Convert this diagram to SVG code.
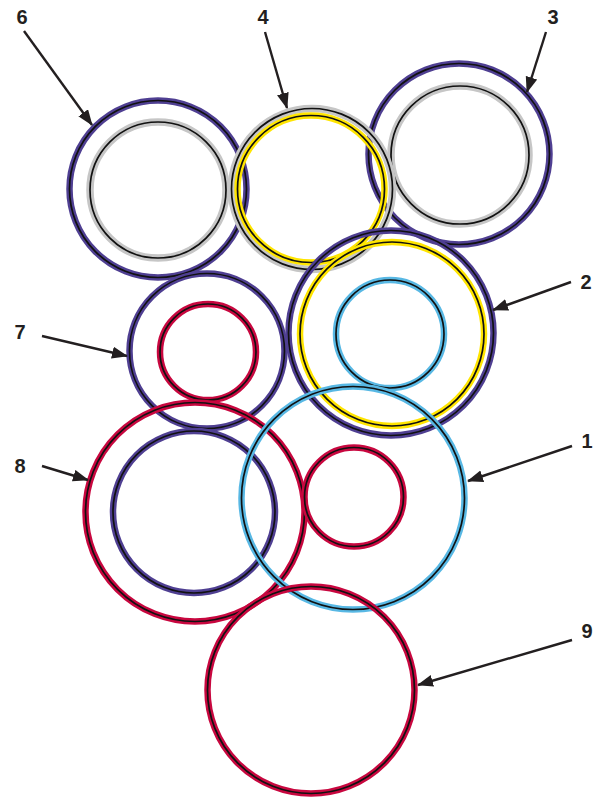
<svg xmlns="http://www.w3.org/2000/svg" width="605" height="799" viewBox="0 0 605 799">
<style>
circle{fill:none}
.pu{stroke:#4f3f92;stroke-width:6.5}
.rd{stroke:#c8073f;stroke-width:6.5}
.bl{stroke:#58b8e4;stroke-width:6.5}
.ye{stroke:#ffe500;stroke-width:6.5}
.gr{stroke:#c6c6c6;stroke-width:7.5}
.k{stroke:#111;stroke-width:1.7}
.lbl{font-family:"Liberation Sans",Arial,sans-serif;font-weight:bold;font-size:20px;fill:#231f20;text-anchor:middle}
.ar{stroke:#231f20;stroke-width:2.4;fill:none;marker-end:url(#ah)}
</style>
<defs>
<marker id="ah" markerUnits="userSpaceOnUse" markerWidth="17" markerHeight="13" refX="15" refY="6" orient="auto">
<path d="M0,0 L16,6 L0,12 z" fill="#231f20"/>
</marker>
</defs>
<g id="node6">
<circle class="pu" cx="158" cy="189" r="88.5"/><circle class="k" cx="158" cy="189" r="88.5"/>
<circle class="gr" cx="158" cy="190" r="68"/><circle class="k" cx="158" cy="190" r="68"/>
</g>
<g id="node3">
<circle class="pu" cx="459" cy="154" r="90.5"/><circle class="k" cx="459" cy="154" r="90.5"/>
<circle class="gr" cx="460" cy="155" r="69"/><circle class="k" cx="460" cy="155" r="69"/>
</g>
<g id="node4">
<circle class="gr" cx="312" cy="189" r="80.5"/><circle class="k" cx="312" cy="189" r="80.5"/>
<circle class="ye" cx="311" cy="189" r="73.5"/><circle class="k" cx="311" cy="189" r="73.5"/>
</g>
<g id="node7">
<circle class="pu" cx="207" cy="351" r="77.5"/><circle class="k" cx="207" cy="351" r="77.5"/>
<circle class="rd" cx="208" cy="352" r="48"/><circle class="k" cx="208" cy="352" r="48"/>
</g>
<g id="node2">
<circle class="pu" cx="391" cy="333" r="102.5"/><circle class="k" cx="391" cy="333" r="102.5"/>
<circle class="ye" cx="392" cy="334" r="92"/><circle class="k" cx="392" cy="334" r="92"/>
<circle class="bl" cx="390" cy="334" r="54"/><circle class="k" cx="390" cy="334" r="54"/>
</g>
<g id="node8">
<circle class="rd" cx="195" cy="512" r="109.5"/><circle class="k" cx="195" cy="512" r="109.5"/>
<circle class="pu" cx="194" cy="512" r="81"/><circle class="k" cx="194" cy="512" r="81"/>
</g>
<g id="node1">
<circle class="bl" cx="353" cy="498" r="111.5"/><circle class="k" cx="353" cy="498" r="111.5"/>
<circle class="rd" cx="354" cy="497" r="49.5"/><circle class="k" cx="354" cy="497" r="49.5"/>
</g>
<g id="node9">
<circle class="rd" cx="311" cy="690" r="103.5"/><circle class="k" cx="311" cy="690" r="103.5"/>
</g>
<g id="connectors">
<line class="ar" x1="24" y1="31" x2="92" y2="125"/>
<line class="ar" x1="265" y1="32" x2="287" y2="108"/>
<line class="ar" x1="546" y1="32" x2="527" y2="92"/>
<line class="ar" x1="571" y1="282" x2="493" y2="310"/>
<line class="ar" x1="42" y1="336" x2="127" y2="356"/>
<line class="ar" x1="572" y1="446" x2="468" y2="481"/>
<line class="ar" x1="42" y1="466" x2="88" y2="480"/>
<line class="ar" x1="572" y1="640" x2="418" y2="685"/>
</g>
<g id="labels">
<text class="lbl" x="22" y="24">6</text>
<text class="lbl" x="263" y="24">4</text>
<text class="lbl" x="553" y="24">3</text>
<text class="lbl" x="586" y="289">2</text>
<text class="lbl" x="20" y="339">7</text>
<text class="lbl" x="587" y="448">1</text>
<text class="lbl" x="20" y="473">8</text>
<text class="lbl" x="587" y="638">9</text>
</g>
</svg>
